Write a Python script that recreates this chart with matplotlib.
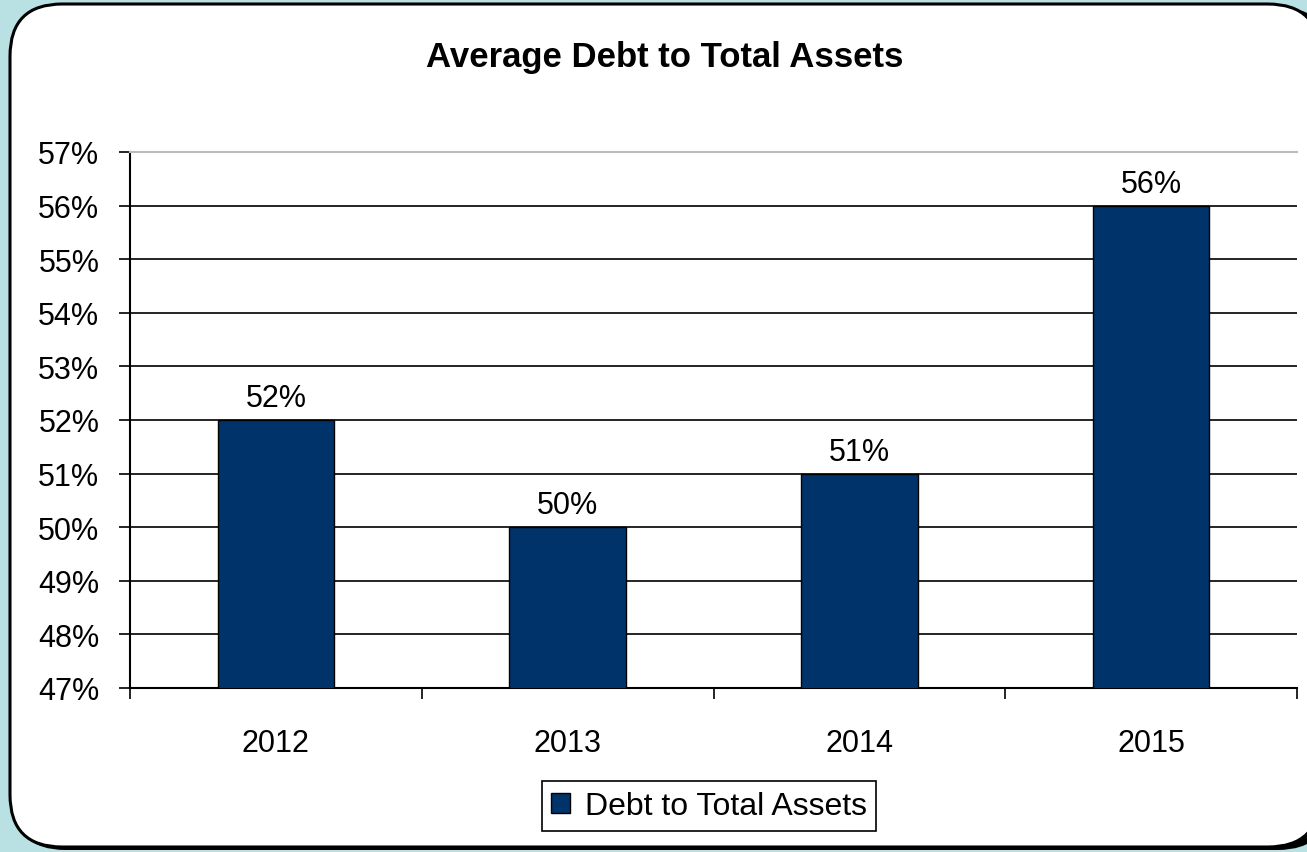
import matplotlib
matplotlib.use("Agg")
import matplotlib.pyplot as plt
from matplotlib.patches import FancyBboxPatch, Patch
from matplotlib.ticker import FixedLocator, FuncFormatter

plt.rcParams['font.family'] = ['Liberation Sans', 'DejaVu Sans']

years = ['2012', '2013', '2014', '2015']
debt_to_assets = [52, 50, 51, 56]
series_name = 'Debt to Total Assets'
title = 'Average Debt to Total Assets'

W, H = 1307, 853
fig = plt.figure(figsize=(W / 100, H / 100), dpi=100)
fig.patch.set_facecolor('#B9E0E3')


def fx(px):
    return px / W


def fy(py):
    return 1 - py / H


# rounded white panel with shadow
shadow = FancyBboxPatch((fx(13), fy(851)), fx(1330) - fx(13), fy(8) - fy(851),
                        boxstyle="round,pad=0,rounding_size=0.04",
                        transform=fig.transFigure, facecolor='black',
                        edgecolor='black', linewidth=0, mutation_aspect=W / H,
                        zorder=0)
panel = FancyBboxPatch((fx(10), fy(848)), fx(1320) - fx(10), fy(5) - fy(848),
                       boxstyle="round,pad=0,rounding_size=0.04",
                       transform=fig.transFigure, facecolor='white',
                       edgecolor='black', linewidth=2.2, mutation_aspect=W / H,
                       zorder=0.5)
fig.patches.extend([shadow, panel])

ax = fig.add_axes([fx(130), fy(689), fx(1297) - fx(130), fy(153) - fy(689)])
ax.set_facecolor('none')
ax.set_zorder(2)

x = list(range(len(years)))
ax.bar(x, debt_to_assets, width=0.4, color='#00336A', edgecolor='black',
       linewidth=1.0, zorder=3)
for xi, v in zip(x, debt_to_assets):
    ax.text(xi, v + 0.13, f'{v}%', ha='center', va='bottom', fontsize=22,
            zorder=4)

ax.set_ylim(47, 57)
ax.set_xlim(-0.5, len(years) - 0.5)
ax.yaxis.set_major_locator(FixedLocator(list(range(47, 58))))
ax.yaxis.set_major_formatter(FuncFormatter(lambda v, p: f'{int(round(v))}%'))
ax.grid(axis='y', color='black', linewidth=1.2, zorder=1)
ax.set_axisbelow(True)

ax.xaxis.set_major_locator(FixedLocator([i - 0.5 for i in range(len(years) + 1)]))
ax.xaxis.set_major_formatter(FuncFormatter(lambda v, p: ''))
ax.xaxis.set_minor_locator(FixedLocator(x))
ax.set_xticklabels(years, minor=True)

ax.tick_params(axis='y', which='major', length=8, width=1.2, pad=14,
               labelsize=22, direction='out')
ax.tick_params(axis='x', which='major', length=8, width=1.2, direction='out')
ax.tick_params(axis='x', which='minor', length=0, pad=29, labelsize=22)

for s in ['left', 'bottom']:
    ax.spines[s].set_color('black')
    ax.spines[s].set_linewidth(1.5)
ax.spines['top'].set_color('#BBBBBB')
ax.spines['top'].set_linewidth(1.5)
ax.spines['right'].set_visible(False)

fig.text(fx(665), fy(57), title, ha='center', va='center', fontsize=25,
         fontweight='bold')

leg = fig.legend(handles=[Patch(facecolor='#00336A', edgecolor='black',
                                label=series_name)],
                 loc='center', bbox_to_anchor=(fx(709), fy(807)),
                 fontsize=23, frameon=True, fancybox=False, framealpha=1,
                 edgecolor='black', handlelength=0.6, handleheight=0.6,
                 handletextpad=0.45, borderpad=0.3, borderaxespad=0)
leg.get_frame().set_linewidth(1.2)

fig.savefig('out.png', dpi=100, facecolor=fig.get_facecolor())
